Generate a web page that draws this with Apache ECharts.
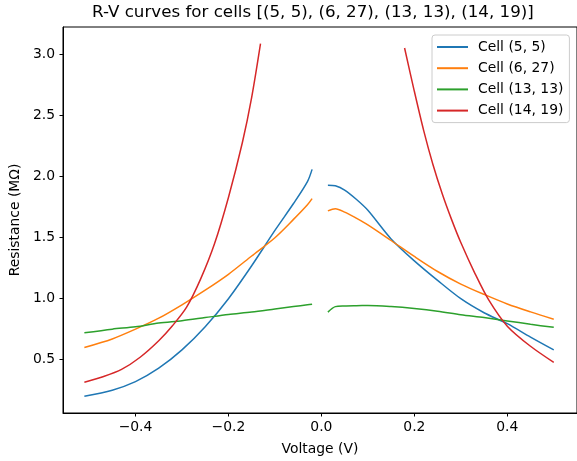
<!DOCTYPE html>
<html>
<head>
<meta charset="utf-8">
<script src="https://cdn.jsdelivr.net/npm/echarts@6/dist/echarts.min.js"></script>
<style>
	html, body { margin: 0; padding: 0; background: #fff; }
	#chart { width: 577px; height: 461px; }
</style>
</head>
<body>
<div id="chart"></div>
<script>
	// 读图估计的数据 (V, MΩ)
	var cellNames = ['Cell (5, 5)', 'Cell (6, 27)', 'Cell (13, 13)', 'Cell (14, 19)']
	var cellColors = ['#1f77b4', '#ff7f0e', '#2ca02c', '#d62728']

	var voltsLeft = [-0.51, -0.45, -0.40, -0.35, -0.30, -0.25, -0.20, -0.15, -0.10, -0.06, -0.03, -0.02]
	var voltsRight = [0.014, 0.03, 0.05, 0.075, 0.10, 0.15, 0.20, 0.25, 0.30, 0.35, 0.40, 0.45, 0.50]

	var blueLeft = [0.20, 0.25, 0.32, 0.43, 0.58, 0.77, 1.00, 1.27, 1.56, 1.78, 1.96, 2.06]
	var blueRight = [1.93, 1.925, 1.89, 1.815, 1.725, 1.49, 1.31, 1.15, 1.00, 0.885, 0.795, 0.685, 0.58]

	var orangeLeft = [0.60, 0.67, 0.75, 0.84, 0.95, 1.07, 1.20, 1.35, 1.50, 1.65, 1.77, 1.82]
	var orangeRight = [1.72, 1.737, 1.71, 1.66, 1.605, 1.477, 1.346, 1.223, 1.12, 1.035, 0.957, 0.892, 0.832]

	var greenLeft = [0.72, 0.75, 0.77, 0.80, 0.82, 0.845, 0.87, 0.89, 0.915, 0.935, 0.95, 0.955]
	var greenRight = [0.89, 0.935, 0.941, 0.943, 0.944, 0.935, 0.919, 0.897, 0.868, 0.845, 0.818, 0.79, 0.765]

	var redVoltsLeft = [-0.51, -0.47, -0.43, -0.39, -0.35, -0.32, -0.29, -0.26, -0.23, -0.20, -0.17, -0.15, -0.131]
	var redLeft = [0.315, 0.36, 0.42, 0.52, 0.655, 0.78, 0.93, 1.16, 1.45, 1.83, 2.28, 2.65, 3.09]
	var redVoltsRight = [0.179, 0.20, 0.22, 0.24, 0.26, 0.28, 0.30, 0.33, 0.36, 0.40, 0.45, 0.50]
	var redRight = [3.055, 2.70, 2.38, 2.10, 1.86, 1.65, 1.46, 1.21, 0.99, 0.775, 0.61, 0.478]

	var xTicks = [-0.4, -0.2, 0.0, 0.2, 0.4]
	var yTicks = [0.5, 1.0, 1.5, 2.0, 2.5, 3.0]

	var font = 'DejaVu Sans'

	function pairs(xs, ys) {
		return xs.map(function(x, i) {
			return [x, ys[i]]
		})
	}

	function lineSeries(idx, xs, ys) {
		return {
			name: cellNames[idx],
			type: 'line',
			data: pairs(xs, ys),
			showSymbol: false,
			symbol: 'none',
			smooth: 0.3,
			color: cellColors[idx],
			lineStyle: {
				width: 1.5,
				color: cellColors[idx]
			}
		}
	}

	var chart = echarts.init(document.getElementById('chart'))
	var option = {
		animation: false,
		backgroundColor: '#fff',
		title: {
			text: 'R-V curves for cells [(5, 5), (6, 27), (13, 13), (14, 19)]',
			left: 92,
			top: 4,
			padding: 0,
			textStyle: {
				fontFamily: font,
				fontSize: 16.7,
				fontWeight: 'normal',
				color: '#000'
			}
		},
		legend: {
			data: cellNames,
			orient: 'vertical',
			left: 432,
			top: 35,
			padding: [5, 6, 5, 5],
			itemGap: 7.2,
			itemWidth: 31,
			itemHeight: 2,
			icon: 'rect',
			backgroundColor: 'rgba(255,255,255,0.8)',
			borderColor: '#cccccc',
			borderWidth: 1,
			borderRadius: 3,
			textStyle: {
				fontFamily: font,
				fontSize: 13.9,
				color: '#000',
				padding: [0, 0, 0, 5]
			}
		},
		grid: {
			show: true,
			left: 62,
			top: 27,
			width: 520,
			height: 386,
			borderColor: '#000',
			borderWidth: 1
		},
		xAxis: {
			type: 'value',
			min: -0.556,
			max: 0.55,
			name: 'Voltage (V)',
			nameLocation: 'middle',
			nameGap: 29,
			nameTextStyle: {
				fontFamily: font,
				fontSize: 13.9,
				color: '#000'
			},
			splitLine: { show: false },
			axisLine: { show: true, onZero: false, lineStyle: { color: '#000', width: 1 } },
			axisTick: {
				show: true,
				inside: false,
				length: 3.5,
				customValues: xTicks,
				lineStyle: { color: '#000' }
			},
			axisLabel: {
				customValues: xTicks,
				margin: 7,
				fontFamily: font,
				fontSize: 13.9,
				color: '#000',
				formatter: function(v) {
					return v.toFixed(1).replace('-', '\u2212')
				}
			}
		},
		yAxis: {
			type: 'value',
			min: 0.063,
			max: 3.227,
			name: 'Resistance (M\u03a9)',
			nameLocation: 'middle',
			nameGap: 40,
			nameTextStyle: {
				fontFamily: font,
				fontSize: 13.9,
				color: '#000'
			},
			splitLine: { show: false },
			axisLine: { show: true, onZero: false, lineStyle: { color: '#000', width: 1 } },
			axisTick: {
				show: true,
				inside: false,
				length: 3.5,
				customValues: yTicks,
				lineStyle: { color: '#000' }
			},
			axisLabel: {
				customValues: yTicks,
				margin: 8,
				fontFamily: font,
				fontSize: 13.9,
				color: '#000',
				formatter: function(v) {
					return v.toFixed(1)
				}
			}
		},
		series: [
			lineSeries(0, voltsLeft, blueLeft),
			lineSeries(0, voltsRight, blueRight),
			lineSeries(1, voltsLeft, orangeLeft),
			lineSeries(1, voltsRight, orangeRight),
			lineSeries(2, voltsLeft, greenLeft),
			lineSeries(2, voltsRight, greenRight),
			lineSeries(3, redVoltsLeft, redLeft),
			lineSeries(3, redVoltsRight, redRight)
		]
	}
	chart.setOption(option)
</script>
</body>
</html>
